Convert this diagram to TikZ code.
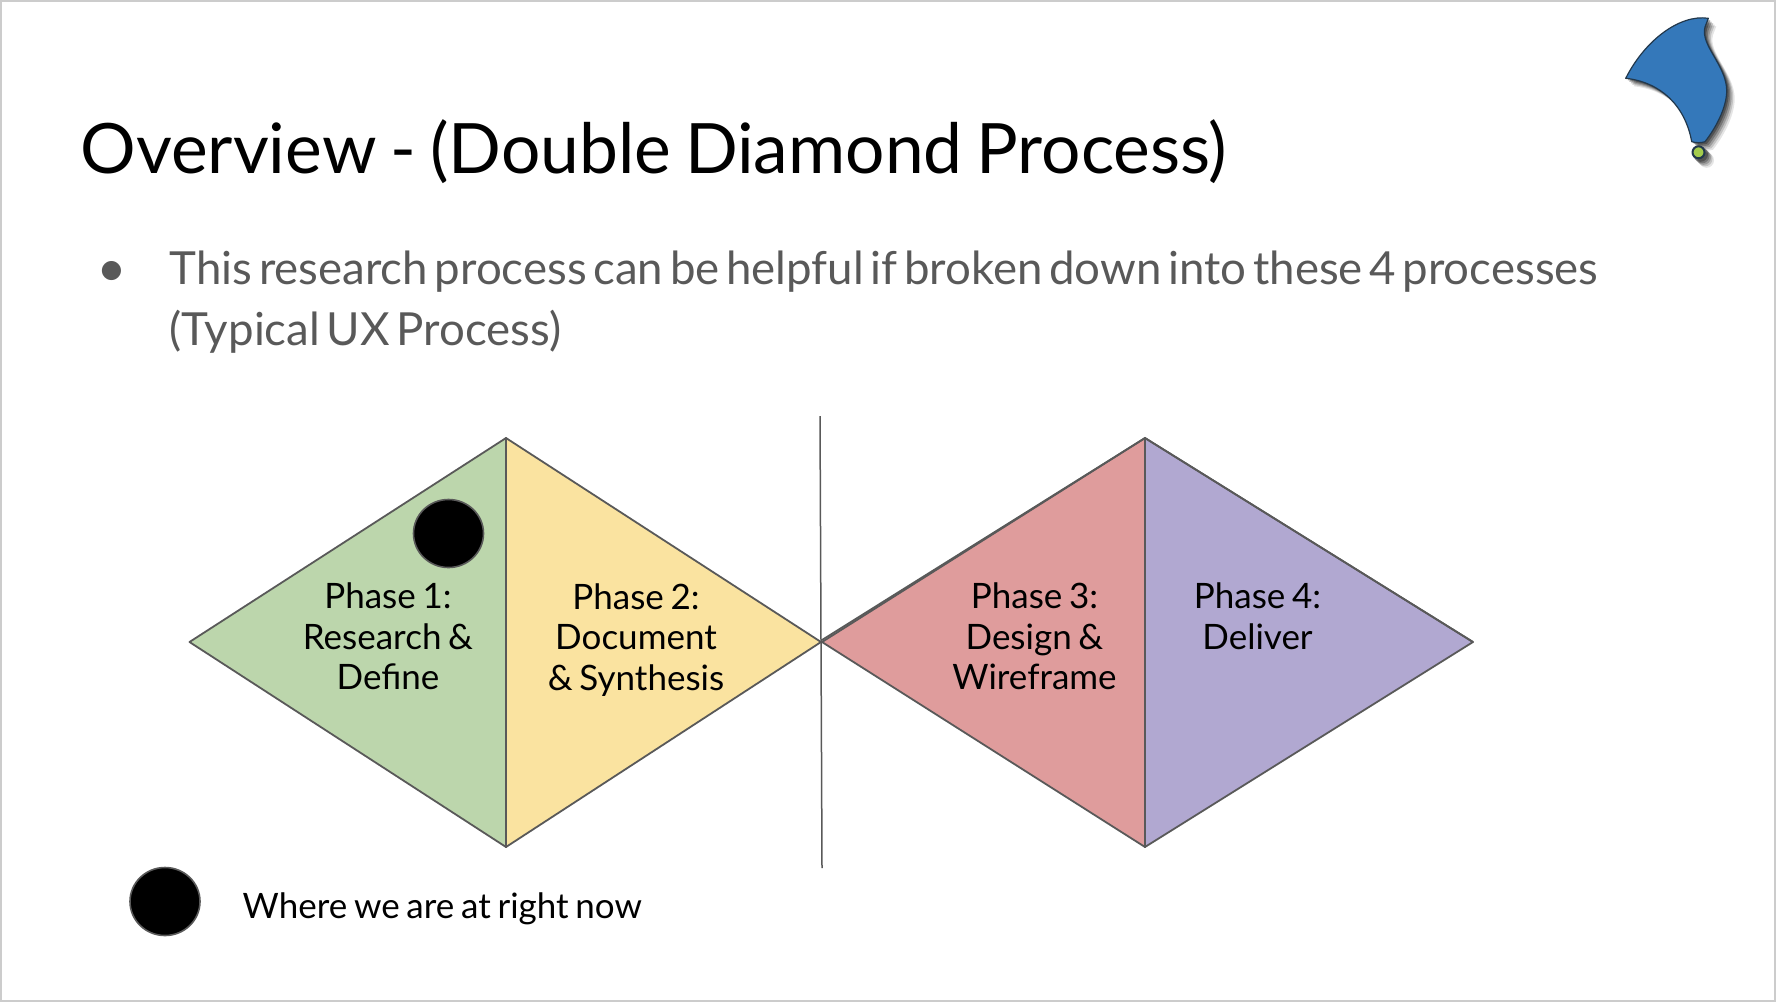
\documentclass[tikz,border=0pt]{standalone}
\usepackage{fontspec}
\setmainfont[WordSpace=0.75]{Lato}
\newfontfamily\introfont[WordSpace=0.57]{Lato}
\newfontfamily\bulletfont{DejaVu Sans}
\usetikzlibrary{positioning}

\definecolor{slidegray}{HTML}{595959}
\definecolor{framegray}{HTML}{CCCCCC}
\definecolor{phasegreen}{HTML}{BCD6AC}
\definecolor{phaseyellow}{HTML}{FAE3A0}
\definecolor{phasered}{HTML}{DF9C9C}
\definecolor{phasepurple}{HTML}{B1A8D1}
\definecolor{logoblue}{HTML}{3478BA}
\definecolor{logogreen}{HTML}{A4CC4C}
\definecolor{logoline}{HTML}{22384C}

\tikzset{
  phasefill/.style={draw=slidegray, line width=1.8pt, line join=round},
  phaselabel/.style={align=center, text=black, inner sep=0pt,
    font=\fontsize{35}{40.6}\selectfont},
  introline/.style={anchor=base west, inner sep=0pt, text=slidegray,
    font=\introfont\fontsize{45.6}{61}\selectfont},
  herenow/.style={draw=slidegray, fill=black, line width=1.6pt},
}

\newcommand{\sailpath}{
  (1708.3,18.3) .. controls (1680,14) and (1645,40) .. (1625.7,78.3)
  .. controls (1660,82) and (1685,105) .. (1691.7,141.7)
  .. controls (1696,143) and (1701,143) .. (1705,141.7)
  .. controls (1718,125) and (1727,105) .. (1726.7,90)
  .. controls (1726,65) and (1700,45) .. (1705,27) -- cycle
}

\begin{document}
\begin{tikzpicture}[x=1pt, y=-1pt]

  % Half-height and middle line of the diamonds
  \def\top{438}
  \def\mid{642}
  \def\bottom{847}

  % === Slide frame
  \path[use as bounding box] (0,0) rectangle (1776,1002);
  \draw[framegray, line width=2pt] (1,1) rectangle (1775,1001);

  % Title and bullet
  \node[anchor=base west, inner sep=0pt, font=\fontsize{69.5}{80}\selectfont] (title)
    at (80.5,173) {\spaceskip=13.8pt\relax Overview - (Double Diamond Process)};
  \node[text=slidegray, inner sep=0pt, font=\bulletfont\fontsize{25}{30}\selectfont] (bullet)
    at (111.5,271) {●};
  \node[introline] (intro) at (169.5,284)
    {This research process can be helpful if broken down into these 4 processes};
  \node[introline] (intro2) at (169.5,345) {(Typical UX Process)};

  % === Left diamond
  \filldraw[phasefill, fill=phasegreen] (189.5,\mid) -- (506,\top) -- (506,\bottom) -- cycle;
  \filldraw[phasefill, fill=phaseyellow] (506,\top) -- (821,\mid) -- (506,\bottom) -- cycle;

  % === Right diamond, its upper edges are drawn twice
  \filldraw[phasefill, fill=phasered] (822,\mid) -- (1145,\top) -- (1145,\bottom) -- cycle;
  \filldraw[phasefill, fill=phasepurple] (1145,\top) -- (1473,\mid) -- (1145,\bottom) -- cycle;
  \draw[slidegray, line width=1.8pt] (822,640) -- (1145,\top) -- (1473,642);

  % Divider
  \coordinate (divtop) at (820,416);
  \coordinate (divbot) at (822,868);
  \draw[slidegray, line width=1.5pt] (divtop) -- (divbot);

  % Labels
  \node[phaselabel] (phaseone) at (388,636.5) {Phase 1:\\Research \&\\Define};
  \node[phaselabel] (phasetwo) at (636,640) {Phase 2:\\Document\\\& Synthesis};
  \node[phaselabel] (phasethree) at (1034.5,636.5) {Phase 3:\\Design \&\\Wireframe};
  \node[phaselabel] (phasefour) at (1257.5,616) {Phase 4:\\Deliver};

  % Markers
  \draw[herenow] (448.5,533.5) ellipse [x radius=35, y radius=34];
  \draw[herenow] (165,901.5) ellipse [x radius=35, y radius=34];
  \node[anchor=west, inner sep=0pt, font=\fontsize{35}{40.6}\selectfont] (legend)
    at (242.5,908.5) {Where we are at right now};

  % === Logo, shadow first
  \foreach \dd/\op in {8/0.10, 6.5/0.15, 5/0.2, 3.5/0.25, 2/0.3} {
    \fill[black, opacity=\op, xshift=\dd pt, yshift=-\dd pt] \sailpath;
    \fill[black, opacity=\op, xshift=\dd pt, yshift=-\dd pt] (1698.5,152.3) circle (7.5);
  }
  \filldraw[draw=logoline, fill=logoblue, line width=1.2pt, line join=round] \sailpath;
  \filldraw[draw=logoline, fill=logogreen, line width=2pt] (1698.5,152.3) circle (6);

\end{tikzpicture}
\end{document}
